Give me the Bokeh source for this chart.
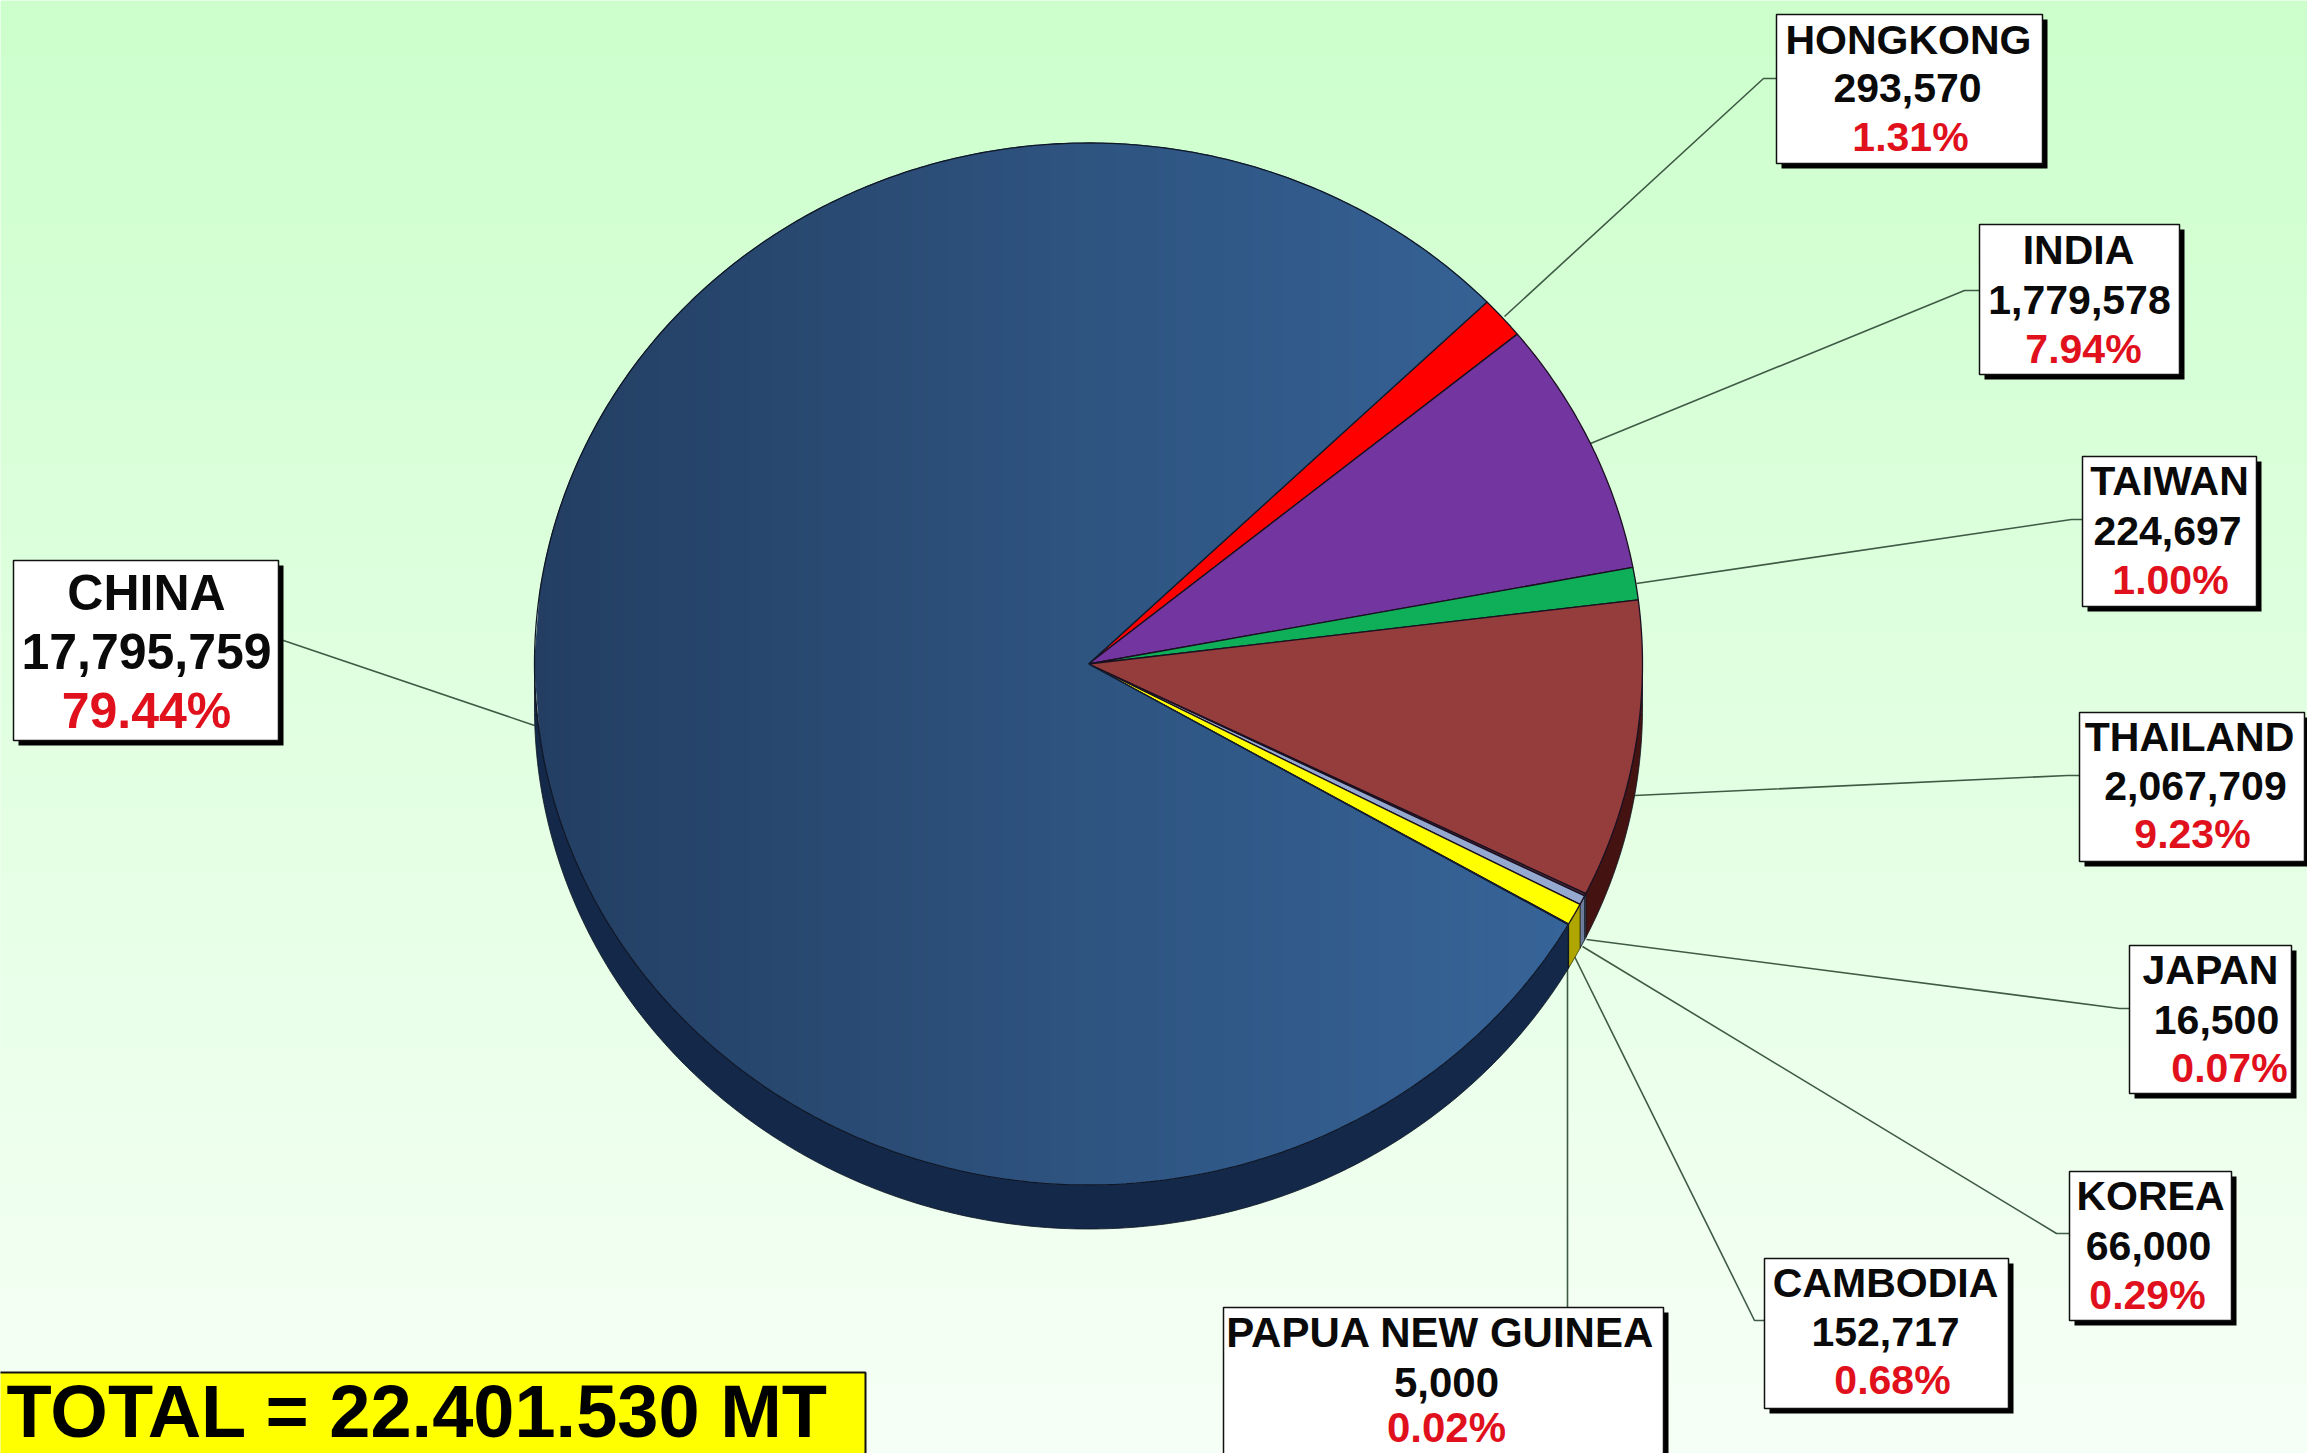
import math
from bokeh.plotting import figure
from bokeh.models import Range1d
from bokeh.core.properties import value
from bokeh.embed import file_html
from bokeh.resources import INLINE

# ---- data (clockwise from the China / Hongkong boundary) ----
countries = ["HONGKONG", "INDIA", "TAIWAN", "THAILAND", "JAPAN", "KOREA", "CAMBODIA", "PAPUA NEW GUINEA", "CHINA"]
tonnes = [293570, 1779578, 224697, 2067709, 16500, 66000, 152717, 5000, 17795759]
percents = ["1.31%", "7.94%", "1.00%", "9.23%", "0.07%", "0.29%", "0.68%", "0.02%", "79.44%"]
total_label = "TOTAL = 22.401.530 MT"

face_colors = ["#ff0000", "#7335a0", "#0fae58", "#953c3c", "#4a2a3a", "#94a8d0", "#ffff00", "#202020", "#2f5580"]
side_colors = ["#8a0000", "#3d1c56", "#07552b", "#451212", "#6d7078", "#6d7c9a", "#b0a600", "#222222", "#14294a"]

# label boxes: left, top, right, bottom
boxes = [
    (1776, 14, 2042, 163), (1979, 224, 2179, 374), (2082, 456, 2256, 606),
    (2079, 712, 2304, 861), (2129, 945, 2291, 1093), (2069, 1171, 2231, 1320),
    (1764, 1258, 2008, 1408), (1223, 1307, 1663, 1470), (13, 560, 278, 740),
]
# text centre x of name, value, percent and y of the three lines
line_x = [
    (1908, 1907, 1910), (2078, 2079, 2083), (2169, 2167, 2170),
    (2189, 2195, 2192), (2210, 2216, 2229), (2150, 2148, 2147),
    (1885, 1885, 1892), (1440, 1446, 1446), (146, 146, 146),
]
line_y = [
    (39, 87, 136), (249, 299, 348), (480, 530, 579),
    (736, 785, 833), (969, 1019, 1067), (1195, 1245, 1294),
    (1282, 1331, 1379), (1332, 1382, 1427), (592, 651, 710),
]
font_sizes = [41, 41, 41, 41, 41, 41, 41, 42, 50]
# leader lines
leaders = [
    [(1504, 316), (1763, 78), (1776, 78)],
    [(1590, 443), (1964, 290), (1979, 290)],
    [(1636, 583), (2071, 519), (2082, 519)],
    [(1634, 795), (2067, 775), (2079, 775)],
    [(1586, 939), (2119, 1008), (2129, 1008)],
    [(1582, 946), (2056, 1233), (2069, 1233)],
    [(1574, 956), (1754, 1320), (1764, 1320)],
    [(1567, 964), (1567, 1307)],
    [(534, 725), (280, 639)],
]

CX, CY, RX, RY, DEPTH = 1088, 663.5, 554, 521, 44
START = 44.0
STEP = 6

W, H = 2307, 1453
p = figure(width=W, height=H, x_range=Range1d(0, W), y_range=Range1d(H, 0),
           output_backend="svg", toolbar_location=None, min_border=0)
p.axis.visible = False
p.grid.visible = False
p.outline_line_color = None
p.background_fill_color = "#e0ffe0"
p.border_fill_color = None


def lerp(c0, c1, t):
    t = max(0.0, min(1.0, t))
    return "#%02x%02x%02x" % tuple(round(a + (b - a) * t) for a, b in zip(c0, c1))


# background gradient
ys = list(range(0, 1460, 8))
p.quad(left=0, right=W, top=ys, bottom=[y + 9 for y in ys],
       fill_color=[lerp((204, 255, 204), (245, 255, 245), y / 1400) for y in ys], line_color=None)

# slice angles from the values
total = sum(tonnes)
bounds = [START]
for v in tonnes:
    bounds.append(bounds[-1] - v / total * 360)


def pt(deg, dy=0.0):
    a = math.radians(deg)
    return CX + RX * math.cos(a), CY - RY * math.sin(a) + dy


def arc(a0, a1, dy=0.0):
    n = max(2, int(abs(a1 - a0) * 2))
    return [pt(a0 + (a1 - a0) * i / n, dy) for i in range(n + 1)]


# leader lines under the pie
p.multi_line([[q[0] for q in l] for l in leaders], [[q[1] for q in l] for l in leaders],
             line_color="#3f5a45", line_width=1.6)

# pie side wall: only the part below the horizontal is visible
for i in range(len(tonnes)):
    a_hi, a_lo = bounds[i], bounds[i + 1]
    for shift in (0, 360, -360):
        lo2, hi2 = max(a_lo + shift, -180), min(a_hi + shift, 0)
        if hi2 > lo2:
            pts = arc(hi2, lo2) + arc(lo2, hi2, DEPTH)
            p.patch([q[0] for q in pts], [q[1] for q in pts], fill_color=side_colors[i],
                    line_color="#0c1420" if i != 6 else "#3a3a10", line_width=0.8)

# flat faces
for i in range(len(tonnes) - 1):
    pts = [(CX, CY)] + arc(bounds[i], bounds[i + 1])
    p.patch([q[0] for q in pts], [q[1] for q in pts], fill_color=face_colors[i],
            line_color="#1a1020", line_width=1.3)

# China face: horizontal colour ramp in vertical strips
a_up = math.radians(bounds[0])
a_dn = math.radians(bounds[-2])
x_up, x_dn = pt(bounds[0])[0], pt(bounds[-2])[0]
s_up = RY * math.sin(a_up) / (RX * math.cos(a_up))
s_dn = RY * math.sin(a_dn) / (RX * math.cos(a_dn))


def half(x):
    u = max(-1.0, min(1.0, (x - CX) / RX))
    return RY * math.sqrt(1 - u * u)


def ramp(x):
    left, mid, right = (35, 62, 98), (46, 84, 128), (56, 102, 156)
    if x < CX:
        return lerp(left, mid, (x - (CX - RX)) / RX)
    return lerp(mid, right, (x - CX) / RX)


sx, sy, sc = [], [], []
edges = [CX - RX + j * STEP for j in range(int(2 * RX / STEP) + 1)]
edges = sorted(set(edges + [CX, x_up, x_dn, CX + RX]))
for x0, x1 in zip(edges[:-1], edges[1:]):
    col = ramp((x0 + x1) / 2)
    if x1 <= CX:
        sx.append([x0, x1, x1, x0])
        sy.append([CY - half(x0), CY - half(x1), CY + half(x1), CY + half(x0)])
        sc.append(col)
    else:
        if x1 <= x_up:
            sx.append([x0, x1, x1, x0])
            sy.append([CY - half(x0), CY - half(x1), CY - (x1 - CX) * s_up, CY - (x0 - CX) * s_up])
            sc.append(col)
        if x1 <= x_dn:
            sx.append([x0, x1, x1, x0])
            sy.append([CY - (x0 - CX) * s_dn, CY - (x1 - CX) * s_dn, CY + half(x1), CY + half(x0)])
            sc.append(col)
p.patches(sx, sy, fill_color=sc, line_color=sc, line_width=1)

china_edge = [(CX, CY)] + arc(bounds[-2], bounds[-1]) + [(CX, CY)]
p.line([q[0] for q in china_edge], [q[1] for q in china_edge], line_color="#101828", line_width=1.3)

# label boxes with their hard shadow
p.quad(left=[b[0] + 5 for b in boxes], right=[b[2] + 5 for b in boxes],
       top=[b[1] + 5 for b in boxes], bottom=[b[3] + 5 for b in boxes],
       fill_color="#000000", line_color=None)
p.quad(left=[b[0] for b in boxes], right=[b[2] for b in boxes],
       top=[b[1] for b in boxes], bottom=[b[3] for b in boxes],
       fill_color="#ffffff", line_color="#111111", line_width=1.5)

sizes = ["%dpx" % s for s in font_sizes]
FONT = value("Liberation Sans")
common = dict(text_font=FONT, text_font_style="bold", text_align="center", text_baseline="middle",
              text_font_size=sizes)
p.text([c[0] for c in line_x], [c[0] for c in line_y], text=countries, text_color="#0a0a0a", **common)
p.text([c[1] for c in line_x], [c[1] for c in line_y], text=[f"{v:,}" for v in tonnes], text_color="#0a0a0a", **common)
p.text([c[2] for c in line_x], [c[2] for c in line_y], text=percents, text_color="#e0101c", **common)

# total box, cut by the page bottom
p.quad(left=[-20], right=[865], top=[1372], bottom=[1480], fill_color="#ffff00",
       line_color="#111111", line_width=2)
p.text([6], [1411], text=[total_label], text_font=FONT, text_font_style="bold", text_align="left",
       text_baseline="middle", text_font_size="74px", text_color="#000000")

open("out.html", "w").write(file_html(p, INLINE))
